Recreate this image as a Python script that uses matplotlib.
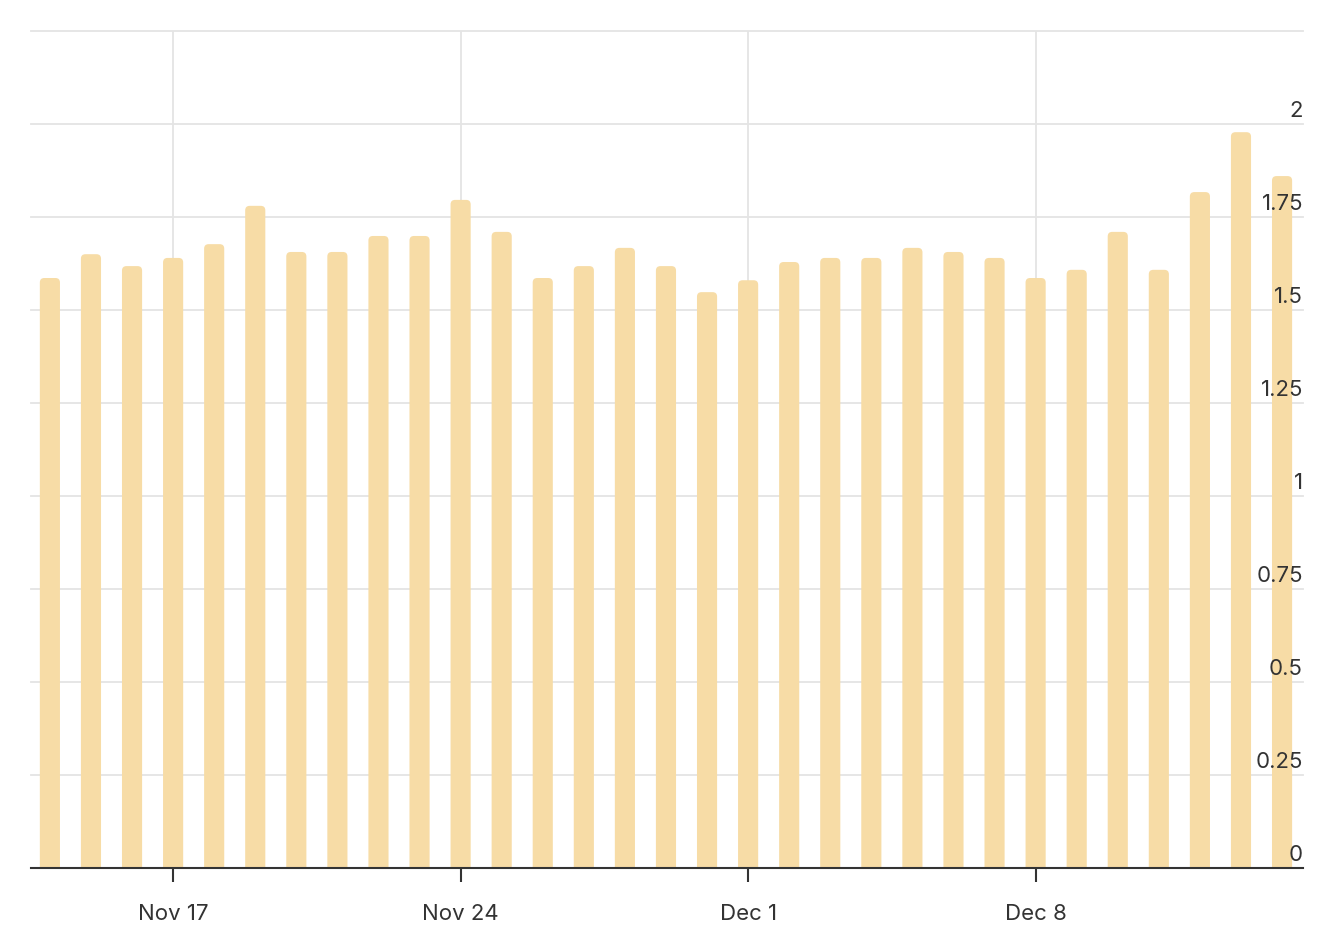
import matplotlib
matplotlib.use('Agg')
import matplotlib.pyplot as plt
import matplotlib.dates as mdates
import matplotlib.transforms as mtransforms
from matplotlib.patches import FancyBboxPatch
import pandas as pd

plt.rcParams['font.family'] = ['Inter', 'DejaVu Sans']

# Данные
start_date = '2024-11-14'
end_date = '2024-12-14'
values = [1.586, 1.65, 1.618, 1.64, 1.677, 1.78, 1.656, 1.656, 1.699, 1.699,
          1.796, 1.71, 1.586, 1.618, 1.667, 1.618, 1.548, 1.58, 1.629, 1.64,
          1.64, 1.667, 1.656, 1.64, 1.586, 1.608, 1.71, 1.608, 1.817, 1.978,
          1.86]
tick_dates = ['2024-11-17', '2024-11-24', '2024-12-01', '2024-12-08']
tick_labels = ['Nov 17', 'Nov 24', 'Dec 1', 'Dec 8']
y_ticks = [0, 0.25, 0.5, 0.75, 1, 1.25, 1.5, 1.75, 2, 2.25]
y_labels = ['0', '0.25', '0.5', '0.75', '1', '1.25', '1.5', '1.75', '2', '']

bar_color = '#F7DCA6'
grid_color = '#E4E4E4'
text_color = '#333333'

dates = pd.date_range(start_date, end_date)
x = mdates.date2num(dates)

fig = plt.figure(figsize=(13.3, 9.4), dpi=100)
ax = fig.add_axes([31 / 1330, 72 / 940, 1272 / 1330, 837 / 940])

ax.set_xlim(x[0] - 0.46, x[-1] + 0.51)
ax.set_ylim(0, 2.25)

# Сетка
for v in y_ticks[1:]:
    ax.axhline(v, color=grid_color, linewidth=1.3, zorder=0, clip_on=False)
tx = mdates.date2num(pd.to_datetime(tick_dates))
for t in tx:
    ax.axvline(t, color=grid_color, linewidth=1.3, zorder=0)

# Столбцы со скруглённым верхом
width = 0.49
aspect = 41 / 372  # единиц y на единицу x при одинаковых пикселях
for xi, v in zip(x, values):
    p = FancyBboxPatch((xi - width / 2, -0.1), width, v + 0.1,
                       boxstyle='round,pad=0,rounding_size=0.11',
                       mutation_aspect=aspect,
                       facecolor=bar_color, edgecolor='none', zorder=2)
    ax.add_patch(p)

# Оси
for s in ['top', 'right', 'left']:
    ax.spines[s].set_visible(False)
ax.spines['bottom'].set_color(text_color)
ax.spines['bottom'].set_linewidth(1.5)
ax.spines['bottom'].set_zorder(3)

ax.set_xticks(tx)
ax.set_xticklabels(tick_labels)
ax.tick_params(axis='x', length=10, width=1.5, color=text_color,
               labelsize=16, labelcolor=text_color, pad=16)
ax.set_yticks([])

# Подписи оси Y справа над линиями
trans = mtransforms.blended_transform_factory(ax.transAxes, ax.transData)
offset = mtransforms.ScaledTranslation(0, 3 / 100, fig.dpi_scale_trans)
for v, lab in zip(y_ticks, y_labels):
    if lab:
        ax.text(1.0, v, lab, transform=trans + offset, ha='right', va='bottom',
                fontsize=16, color=text_color, zorder=4)

plt.savefig('out.png', dpi=100)
plt.close()
